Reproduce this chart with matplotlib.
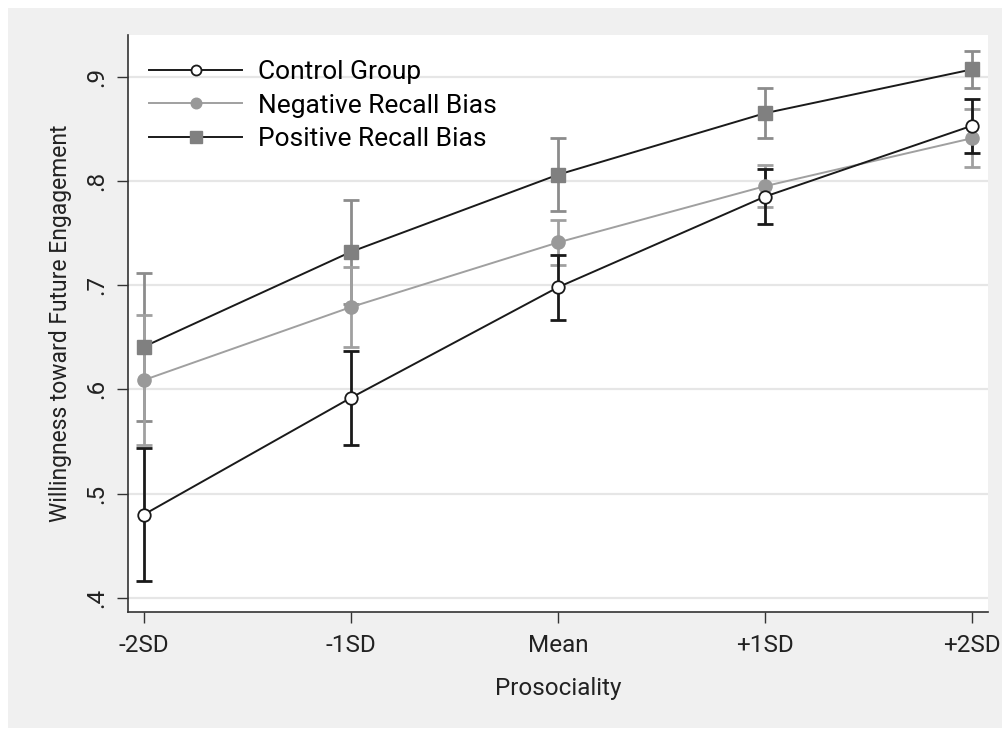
import matplotlib.pyplot as plt
import numpy as np
from matplotlib.patches import Rectangle

plt.rcParams['font.family'] = ['Roboto', 'DejaVu Sans']

levels = ['-2SD', '-1SD', 'Mean', '+1SD', '+2SD']
x = np.arange(-2, 3)

control = [0.480, 0.592, 0.698, 0.785, 0.853]
control_ci = [0.064, 0.045, 0.031, 0.026, 0.026]

negative = [0.609, 0.679, 0.741, 0.795, 0.841]
negative_ci = [0.062, 0.038, 0.022, 0.020, 0.028]

positive = [0.641, 0.732, 0.806, 0.865, 0.907]
positive_ci = [0.071, 0.050, 0.035, 0.024, 0.018]

fig = plt.figure(figsize=(10.03, 7.32), dpi=100, facecolor='white')
fig.patches.append(Rectangle((8 / 1003, 4 / 732), 995 / 1003, 720 / 732,
                             transform=fig.transFigure, facecolor='#f0f0f0',
                             edgecolor='none', zorder=-10))
ax = fig.add_axes([128 / 1003, 1 - 612 / 732, 860 / 1003, 577 / 732])
ax.set_zorder(5)
ax.set_facecolor('white')

for yv in [0.4, 0.5, 0.6, 0.7, 0.8, 0.9]:
    ax.axhline(yv, color='#e6e6e6', lw=1.6, zorder=0)

# error bars
ax.errorbar(x, positive, yerr=positive_ci, fmt='none', ecolor='#8c8c8c',
            elinewidth=2, capsize=6, capthick=2, zorder=2)
ax.errorbar(x, negative, yerr=negative_ci, fmt='none', ecolor='#a0a0a0',
            elinewidth=2, capsize=6, capthick=2, zorder=2)
ax.errorbar(x, control, yerr=control_ci, fmt='none', ecolor='#1a1a1a',
            elinewidth=2, capsize=6, capthick=2, zorder=3)

ax.plot(x, control, color='#1a1a1a', lw=1.4, marker='o', ms=9,
        mfc='white', mec='#1a1a1a', mew=1.3, label='Control Group', zorder=5)
ax.plot(x, negative, color='#a0a0a0', lw=1.4, marker='o', ms=9.5,
        mfc='#999999', mec='#999999', label='Negative Recall Bias', zorder=4)
ax.plot(x, positive, color='#1a1a1a', lw=1.4, marker='s', ms=10,
        mfc='#808080', mec='#808080', label='Positive Recall Bias', zorder=4)

ax.set_xlim(-2.077, 2.077)
ax.set_ylim(0.3865, 0.94)
ax.set_xticks(x)
ax.set_xticklabels(levels, fontsize=17.5)
ax.set_yticks([0.4, 0.5, 0.6, 0.7, 0.8, 0.9])
ax.set_yticklabels(['.4', '.5', '.6', '.7', '.8', '.9'], fontsize=17.5,
                   rotation=90, va='center')
ax.tick_params(axis='both', length=8, width=1, color='#333333', colors='#222222')
ax.tick_params(axis='y', pad=6)
ax.tick_params(axis='x', pad=8)

for s in ['top', 'right']:
    ax.spines[s].set_visible(False)
for s in ['left', 'bottom']:
    ax.spines[s].set_color('#333333')
    ax.spines[s].set_linewidth(1.2)

ax.set_xlabel('Prosociality', fontsize=17.5, color='#222222', labelpad=14)
ax.set_ylabel('Willingness toward Future Engagement', fontsize=16.5,
              color='#222222', labelpad=10)

leg = ax.legend(loc='upper left', frameon=False, fontsize=19,
                handlelength=3.55, handletextpad=0.6, labelspacing=0.36,
                borderaxespad=0.55, markerscale=0.8,
                bbox_to_anchor=(-0.005, 1.0))

fig.savefig('out.png', dpi=100, facecolor=fig.get_facecolor())
